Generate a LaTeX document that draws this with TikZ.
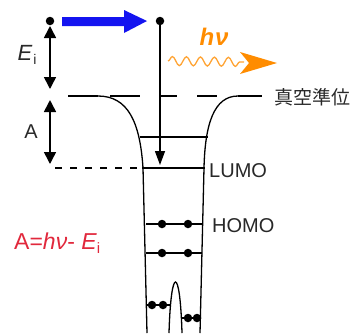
\documentclass[tikz,border=0pt]{standalone}
\usepackage{fontspec}
\setmainfont{Liberation Sans}
\newfontfamily\cjk{Noto Sans CJK JP}
\usetikzlibrary{arrows.meta,decorations.pathmorphing}
\definecolor{myblue}{RGB}{20,20,240}
\definecolor{myorange}{RGB}{255,140,0}
\definecolor{myred}{RGB}{225,40,60}
\definecolor{txt}{RGB}{40,40,40}
\tikzset{
  wall/.style={line width=1.3pt, black},
  level/.style={line width=1.2pt, black},
  dot/.style={circle, fill=black, inner sep=0pt, minimum size=8.5pt},
  dbl/.style={line width=1.6pt, {Triangle[length=12pt,width=12pt]}-{Triangle[length=12pt,width=12pt]}},
  lbl/.style={text=txt, inner sep=0pt},
}
\newcommand{\fsz}[1]{\fontsize{#1}{#1}\selectfont}
\begin{document}
\begin{tikzpicture}[x=1pt,y=-1pt]
\useasboundingbox (0,0) rectangle (355,333);
% top dots
\node[dot] (d1) at (50,21) {};
\node[dot] (d2) at (160,21) {};
% blue arrow
\fill[myblue] (62,17) -- (124,17) -- (124,10) -- (147,21) -- (124,33) -- (124,26) -- (62,26) -- cycle;
% double arrows
\coordinate (v1) at (50,26);
\coordinate (v2) at (50,89);
\coordinate (v3) at (50,100);
\coordinate (v4) at (50,164);
\draw[dbl] (v1) -- (v2);
\draw[dbl] (v3) -- (v4);
\node[lbl, font=\fsz{22}\itshape] (ei) at (27,55) {E\kern1pt\raisebox{-4pt}{\fsz{14}\upshape i}};
\node[lbl, font=\fsz{20}] (alab) at (31,132) {A};
% vacuum level dashes
\foreach \a/\b in {68/98,110/140,160/177,197/217}{
  \draw[level] (\a,96) -- (\b,96);
}
\coordinate (vr1) at (238,96);
\coordinate (vr2) at (262,96);
\draw[level] (vr1) -- (vr2);
\node[lbl, font=\cjk\fsz{19}, anchor=west] (vac) at (274,97) {真空準位};
% walls
\draw[wall] (98,96) .. controls (128,96) and (140,122) .. (143,168) -- (147,333);
\draw[wall] (238,96) .. controls (214,96) and (205,124) .. (204,168) -- (200,333);
% levels
\draw[level] (140,137) -- (208,137);
\draw[level] (142,168) -- (205,168);
\draw[line width=1.2pt, dash pattern=on 7pt off 8pt] (55,168) -- (140,168);
% electron arrow
\coordinate (tip) at (160,165);
\draw[line width=1.3pt, -{Triangle[length=14pt,width=10pt]}] (d2) -- (tip);
\node[lbl, font=\fsz{20}, anchor=west] (lumo) at (209,171) {LUMO};
% HOMO levels
\draw[level] (146,224) -- (202,224);
\draw[level] (146,253) -- (202,253);
\foreach \x in {162,188}{
  \node[dot] at (\x,224) {};
  \node[dot] at (\x,253) {};
}
\node[lbl, font=\fsz{20}, anchor=west] (homo) at (212,226) {HOMO};
% bottom peak
\draw[wall] (169,333) .. controls (171,265) and (180,265) .. (182,333);
\draw[level] (147,305) -- (170,305);
\draw[level] (181,318) -- (200,318);
\node[dot] at (152,305) {};
\node[dot] at (163,305) {};
\node[dot] at (188,318) {};
\node[dot] at (197,318) {};
% photon
\draw[myorange!80, line width=1.3pt, decorate, decoration={snake, segment length=14pt, amplitude=4.5pt}] (168,61) -- (244,62);
\fill[myorange] (240,52) -- (277,63) -- (240,74) -- (249,63) -- cycle;
\node[lbl, text=myorange, font=\fsz{24}\bfseries\itshape] (hv) at (214,37) {h\kern1ptν};
% formula
\node[lbl, text=myred, font=\fsz{23}, anchor=west] (form) at (14,243) {A=\textit{hν}- \textit{E}\raisebox{-4pt}{\fsz{15}i}};
\end{tikzpicture}
\end{document}
